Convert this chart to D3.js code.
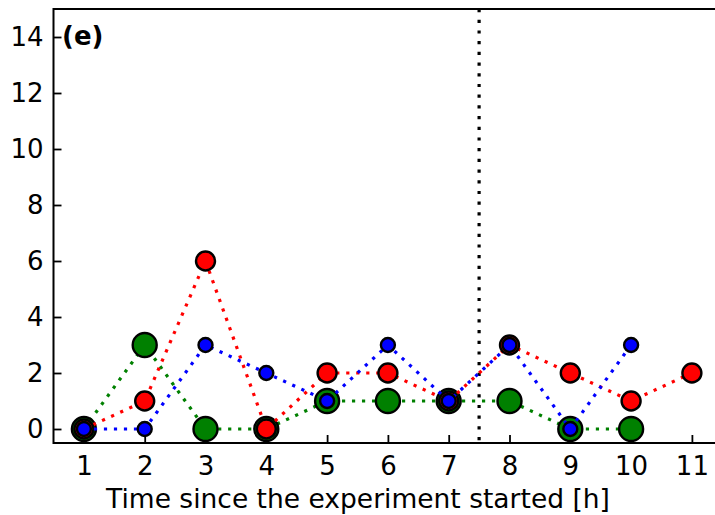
<!DOCTYPE html>
<html>
<head>
<meta charset="utf-8">
<script src="https://cdn.jsdelivr.net/npm/d3@7"></script>
<style>
  body { margin: 0; background: #fff; }
  text { font-family: "DejaVu Sans", sans-serif; }
</style>
</head>
<body>
<script>
// hours since start
let hours = [1, 2, 3, 4, 5, 6, 7, 8, 9, 10, 11];
let greenVals = [0, 3, 0, 0, 1, 1, 1, 1, 0, 0];
let redVals = [0, 1, 6, 0, 2, 2, 1, 3, 2, 1, 2];
let blueVals = [0, 0, 3, 2, 1, 3, 1, 3, 0, 3];
let yTicks = [0, 2, 4, 6, 8, 10, 12, 14];
let splitHour = 7.5;

let W = 715, H = 515;
let padLeft = 53.5, padTop = 9, padBottom = 443;

let svg = d3.select("body").append("svg")
    .attr("width", W)
    .attr("height", H);

let x = d3.scaleLinear().domain([0.5, 11.5]).range([padLeft, padLeft + 11 * 60.8]);
let y = d3.scaleLinear().domain([-0.5, 15]).range([padBottom, padTop]);

// axes, ticks pointing inward
let xAxis = d3.axisBottom(x).tickValues(hours).tickFormat(d3.format("d"))
    .tickSizeInner(-8).tickSizeOuter(0).tickPadding(14);
let yAxis = d3.axisLeft(y).tickValues(yTicks).tickFormat(d3.format("d"))
    .tickSizeInner(-8).tickSizeOuter(0).tickPadding(10);

let gx = svg.append("g").attr("transform", "translate(0," + padBottom + ")").call(xAxis);
let gy = svg.append("g").attr("transform", "translate(" + padLeft + ",0)").call(yAxis);
[gx, gy].forEach(function(g) {
    g.select(".domain").remove();
    g.selectAll(".tick line").attr("stroke", "#000").attr("stroke-width", 1.8);
    g.selectAll(".tick text").attr("fill", "#000").style("font-size", "26px");
});
gx.selectAll(".tick text").attr("dy", "0.71em");

// spines (right one falls off the picture)
svg.append("rect")
    .attr("x", padLeft).attr("y", padTop)
    .attr("width", x.range()[1] - padLeft).attr("height", padBottom - padTop)
    .attr("fill", "none").attr("stroke", "#000").attr("stroke-width", 2);

// the vertical divider
svg.append("line")
    .attr("x1", x(splitHour)).attr("x2", x(splitHour))
    .attr("y1", padTop).attr("y2", padBottom)
    .attr("stroke", "#000").attr("stroke-width", 3.2)
    .attr("stroke-dasharray", "3.2,7.5");

let series = [
    {vals: greenVals, color: "green", r: 12},
    {vals: redVals, color: "red", r: 9.5},
    {vals: blueVals, color: "blue", r: 7}
];

let line = d3.line()
    .x(function(d, i) { return x(hours[i]); })
    .y(function(d) { return y(d); });

series.forEach(function(s) {
    let g = svg.append("g");
    g.append("path")
        .attr("d", line(s.vals))
        .attr("fill", "none")
        .attr("stroke", s.color)
        .attr("stroke-width", 3.2)
        .attr("stroke-dasharray", "3.2,6.8");
    g.selectAll("circle").data(s.vals).enter().append("circle")
        .attr("cx", function(d, i) { return x(hours[i]); })
        .attr("cy", function(d) { return y(d); })
        .attr("r", s.r)
        .attr("fill", s.color)
        .attr("stroke", "#000")
        .attr("stroke-width", 2.4);
});

svg.append("text")
    .attr("x", 62).attr("y", 45)
    .style("font-size", "26px").style("font-weight", "bold")
    .text("(e)");

svg.append("text")
    .attr("x", 358).attr("y", 508)
    .attr("text-anchor", "middle")
    .style("font-size", "26.5px")
    .text("Time since the experiment started [h]");
</script>
</body>
</html>
